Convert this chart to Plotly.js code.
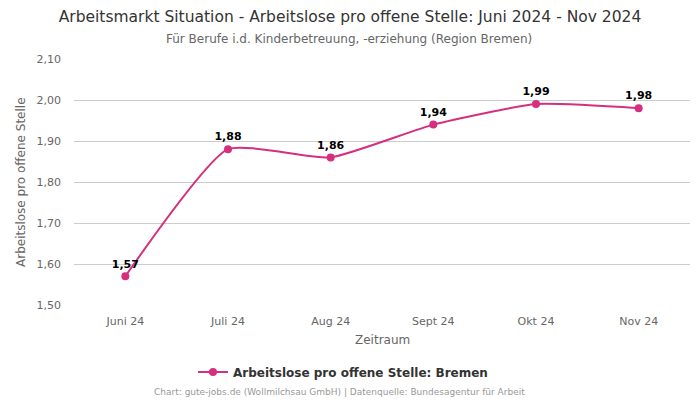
<!DOCTYPE html>
<html><head><meta charset="utf-8">
<script src="https://cdn.plot.ly/plotly-3.0.1.min.js"></script>
<style>html,body{margin:0;padding:0;background:#fff}#chart{width:700px;height:400px}</style>
</head><body><div id="chart"></div>
<script>
var categories = ["Juni 24","Juli 24","Aug 24","Sept 24","Okt 24","Nov 24"];
var values = [1.57, 1.88, 1.86, 1.94, 1.99, 1.98];
var seriesName = "Arbeitslose pro offene Stelle: Bremen";
var yTicks = [1.5,1.6,1.7,1.8,1.9,2.0,2.1];
var lineColor = "#d52f7d";
var font = "DejaVu Sans, sans-serif";

var trace = {
  x: categories, y: values, type: "scatter", mode: "lines+markers+text",
  name: seriesName,
  line: {color: lineColor, width: 2, shape: "spline", smoothing: 0.5},
  marker: {color: lineColor, size: 8},
  text: values.map(function(v){return v.toFixed(2).replace(".", ",");}),
  textposition: "top center",
  textfont: {family: font, size: 11, color: "#000", weight: "bold"},
  cliponaxis: false
};
var layout = {
  width: 700, height: 400,
  margin: {l: 74, r: 10, t: 59, b: 95, autoexpand: false},
  separators: ",.",
  paper_bgcolor: "#fff", plot_bgcolor: "#fff",
  font: {family: font, color: "#666"},
  title: {text: "Arbeitsmarkt Situation - Arbeitslose pro offene Stelle: Juni 2024 - Nov 2024", x: 0.5, xanchor: "center", xref: "container", y: 0.972, yanchor: "top", font: {size: 15.5, color: "#333", family: font}},
  annotations: [
    {text: "Für Berufe i.d. Kinderbetreuung, -erziehung (Region Bremen)", xref: "paper", yref: "paper", x: 0.5, y: 1, yanchor: "middle", yshift: 20, xanchor: "center", showarrow: false, font: {size: 12, color: "#666", family: font}, xshift: -33},
    {text: "Chart: gute-jobs.de (Wollmilchsau GmbH) | Datenquelle: Bundesagentur für Arbeit", xref: "paper", yref: "paper", x: 0.5, y: 0, yanchor: "middle", yshift: -87, xanchor: "center", showarrow: false, font: {size: 9, color: "#999", family: font}, xshift: -43},
    {text: "Arbeitslose pro offene Stelle", xref: "paper", yref: "paper", x: 0, y: 0.5, xanchor: "center", yanchor: "middle", xshift: -53, textangle: -90, showarrow: false, font: {size: 12, color: "#666", family: font}},
    {text: "Zeitraum", xref: "paper", yref: "paper", x: 0.5, y: 0, xanchor: "center", yanchor: "middle", yshift: -35, showarrow: false, font: {size: 12, color: "#666", family: font}}
  ],
  xaxis: {type: "category", range: [-0.5, 5.5], showgrid: false, zeroline: false, showline: false, ticks: "", automargin: false, tickfont: {size: 11, color: "#666"}, ticklabelstandoff: 8},
  yaxis: {range: [1.5, 2.1], tickvals: yTicks, tickformat: ".2f", gridcolor: "#ccc", gridwidth: 1, zeroline: false, showline: false, automargin: false, ticklabelstandoff: 12, tickfont: {size: 11, color: "#666"}},
  showlegend: true,
  legend: {orientation: "h", x: 0.49, xanchor: "center", xref: "container", y: 28/400, yref: "container", yanchor: "middle", font: {size: 12, color: "#333", weight: "bold"}}
};
Plotly.newPlot("chart", [trace], layout, {displayModeBar: false, staticPlot: true});
</script></body></html>
